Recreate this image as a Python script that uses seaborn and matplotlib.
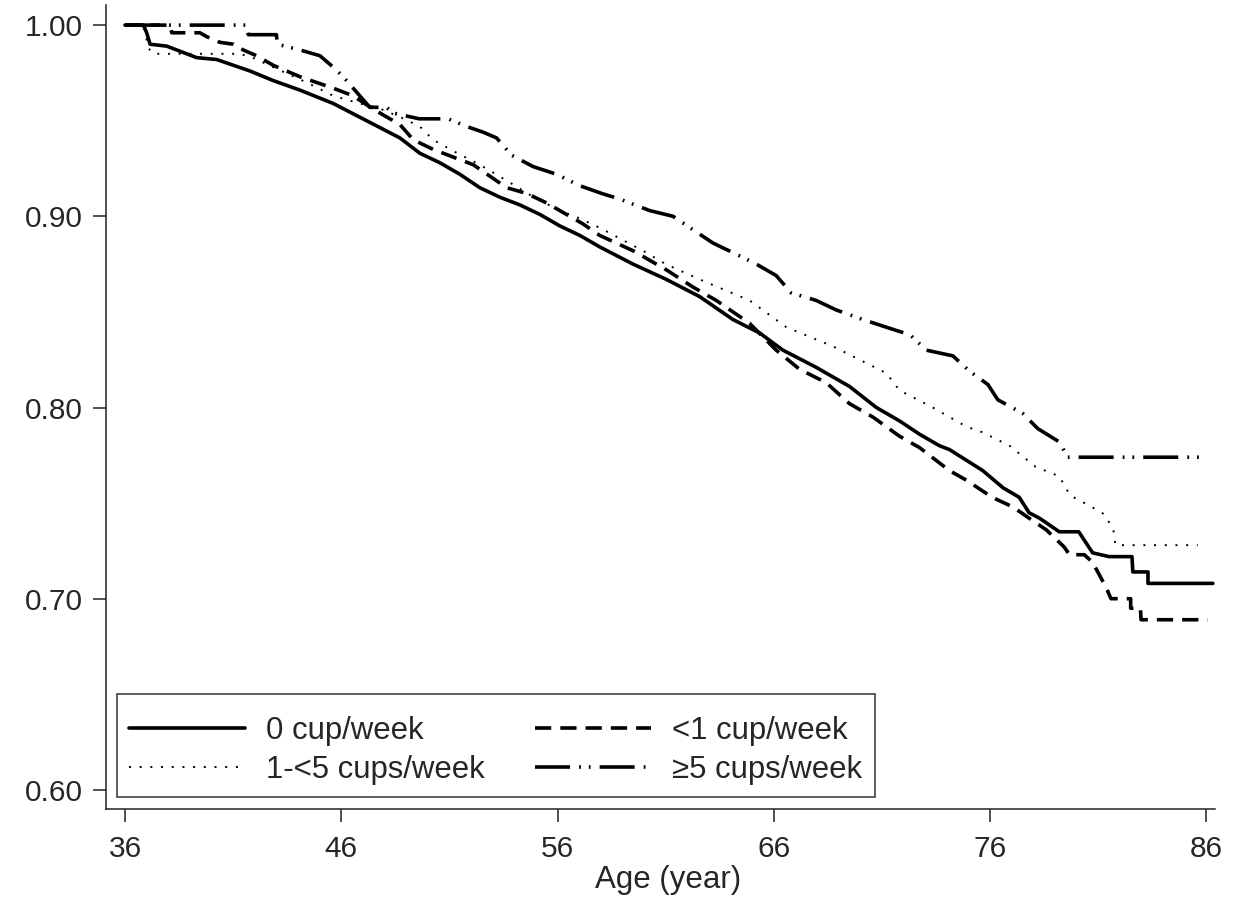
import seaborn as sns
import pandas as pd
import matplotlib.pyplot as plt

# survival curves (age, proportion still event-free)
age_0 = [36.0, 36.85, 37.0, 37.16, 37.93, 38.39, 39.31, 40.24, 41.01, 41.78, 42.85, 44.09, 45.63,
         47.17, 48.71, 49.63, 50.56, 51.48, 52.4, 53.33, 54.25, 55.18, 56.1, 57.03, 57.95, 59.49,
         61.03, 62.57, 64.11, 65.34, 66.42, 67.96, 69.5, 70.74, 71.81, 72.74, 73.66, 74.12, 75.66,
         76.6, 77.35, 77.8, 78.3, 79.2, 80.1, 80.74, 81.5, 82.56, 82.6, 83.3, 83.3, 86.3]
surv_0 = [1.000, 1.000, 0.996, 0.990, 0.989, 0.987, 0.983, 0.982, 0.979, 0.976, 0.971, 0.966, 0.959,
          0.950, 0.941, 0.933, 0.928, 0.922, 0.915, 0.910, 0.906, 0.901, 0.895, 0.890, 0.884, 0.875,
          0.867, 0.858, 0.846, 0.839, 0.830, 0.821, 0.811, 0.800, 0.793, 0.786, 0.780, 0.778, 0.767,
          0.758, 0.753, 0.745, 0.742, 0.735, 0.735, 0.724, 0.722, 0.722, 0.714, 0.714, 0.708, 0.708]

age_1 = [36.0, 38.1, 38.16, 39.46, 39.77, 40.39, 41.01, 41.47, 42.08, 42.85, 43.47, 44.09, 44.86,
         45.63, 46.55, 47.48, 48.71, 49.33, 50.25, 51.17, 52.1, 52.87, 53.64, 54.56, 55.49, 56.41,
         57.18, 57.95, 59.49, 61.03, 62.26, 63.34, 64.88, 66.11, 67.19, 68.42, 69.5, 70.58, 71.81,
         72.74, 74.12, 74.9, 76.1, 77.05, 77.82, 78.6, 79.43, 79.67, 80.36, 80.74, 81.36, 81.59,
         82.5, 82.5, 82.95, 82.98, 86.06]
surv_1 = [1.000, 1.000, 0.996, 0.996, 0.994, 0.991, 0.990, 0.987, 0.984, 0.979, 0.976, 0.973, 0.970,
          0.967, 0.963, 0.956, 0.948, 0.940, 0.935, 0.931, 0.927, 0.921, 0.915, 0.912, 0.907, 0.901,
          0.896, 0.890, 0.882, 0.872, 0.863, 0.856, 0.844, 0.830, 0.820, 0.813, 0.802, 0.795, 0.785,
          0.779, 0.767, 0.762, 0.753, 0.748, 0.742, 0.736, 0.727, 0.723, 0.723, 0.719, 0.706, 0.700,
          0.700, 0.695, 0.695, 0.689, 0.689]

age_2 = [36.0, 36.85, 37.08, 37.3, 41.3, 41.9, 42.85, 44.4, 45.63, 46.86, 47.63, 48.71, 49.63,
         50.25, 51.2, 52.4, 53.6, 54.9, 56.1, 57.0, 57.95, 59.95, 61.0, 62.57, 64.88, 66.58, 68.73,
         71.2, 71.81, 73.35, 74.9, 75.66, 76.9, 78.1, 79.2, 79.7, 80.7, 81.3, 81.7, 81.8, 85.6]
surv_2 = [1.000, 1.000, 0.988, 0.985, 0.985, 0.983, 0.978, 0.970, 0.963, 0.959, 0.957, 0.952, 0.947,
          0.940, 0.934, 0.927, 0.919, 0.910, 0.903, 0.899, 0.894, 0.882, 0.875, 0.867, 0.856, 0.842,
          0.832, 0.818, 0.809, 0.800, 0.790, 0.787, 0.780, 0.769, 0.764, 0.754, 0.748, 0.744, 0.736,
          0.728, 0.728]

age_3 = [36.0, 41.62, 41.7, 43.0, 43.05, 44.09, 45.01, 45.63, 46.09, 46.55, 47.32, 48.09, 48.4,
         49.6, 50.94, 51.79, 52.56, 53.18, 53.87, 54.87, 55.95, 57.03, 58.03, 58.88, 60.26, 61.34,
         62.26, 63.19, 64.11, 65.19, 66.11, 66.8, 67.96, 68.89, 70.12, 71.2, 72.3, 73.05, 74.28,
         75.05, 75.9, 76.36, 77.5, 78.2, 79.2, 79.59, 85.98]
surv_3 = [1.000, 1.000, 0.995, 0.995, 0.990, 0.987, 0.984, 0.978, 0.973, 0.967, 0.957, 0.957, 0.954,
          0.951, 0.951, 0.947, 0.944, 0.941, 0.932, 0.926, 0.922, 0.916, 0.912, 0.909, 0.903, 0.900,
          0.893, 0.886, 0.881, 0.875, 0.869, 0.860, 0.856, 0.851, 0.846, 0.842, 0.838, 0.830, 0.827,
          0.819, 0.812, 0.804, 0.797, 0.789, 0.782, 0.774, 0.774]

groups = ["0 cup/week", "<1 cup/week", "1-<5 cups/week", "\u22655 cups/week"]
x_ticks = [36, 46, 56, 66, 76, 86]
y_ticks = [0.60, 0.70, 0.80, 0.90, 1.00]

sns.set_style("ticks")
plt.rcParams["font.family"] = ["Liberation Sans", "DejaVu Sans"]

fig = plt.figure(figsize=(12.44, 9), dpi=100)
ax = fig.add_axes([0.0852, 0.1011, 0.8915, 0.8933])

# stata-like line patterns
styles = {
    groups[0]: dict(linestyle="-", lw=2.6),
    groups[1]: dict(linestyle=(0, (4.5, 2.5)), lw=2.6),
    groups[2]: dict(linestyle=(0, (1, 4.5)), lw=1.4),
    groups[3]: dict(linestyle=(0, (9.7, 2.5, 0.5, 2.2, 0.5, 2.5)), lw=2.6),
}
series = [(age_0, surv_0), (age_1, surv_1), (age_2, surv_2), (age_3, surv_3)]

handles = {}
for name, (a, s) in zip(groups, series):
    df = pd.DataFrame({"age": a, "surv": s})
    sns.lineplot(data=df, x="age", y="surv", estimator=None, sort=False, color="black",
                 label=name, ax=ax, **styles[name])
    handles[name] = ax.get_lines()[-1]

ax.set_xlim(35.12, 86.4)
ax.set_ylim(0.590, 1.0105)
ax.set_xticks(x_ticks)
ax.set_yticks(y_ticks)
ax.set_yticklabels([f"{v:.2f}" for v in y_ticks])
ax.tick_params(axis="both", labelsize=21.5, length=9.4, width=1.1, color="#222222")
ax.tick_params(axis="x", pad=9)
ax.tick_params(axis="y", pad=7)
ax.set_xlabel("Age (year)", fontsize=22.5, labelpad=2)
ax.xaxis.label.set_x(0.507)
ax.set_ylabel("")
sns.despine(ax=ax)
for sp in ["left", "bottom"]:
    ax.spines[sp].set_linewidth(1.1)
    ax.spines[sp].set_color("#222222")

order = [groups[0], groups[2], groups[1], groups[3]]
# tiny blank title gives the extra space above the first row, as in the original
leg = ax.legend([handles[k] for k in order], order, ncol=2, loc="lower left",
                bbox_to_anchor=(0.0099, 0.0149), borderaxespad=0, fontsize=22.4,
                title=" ", title_fontsize=1,
                frameon=True, fancybox=False, edgecolor="black", handlelength=3.7,
                handletextpad=0.7, columnspacing=1.62, labelspacing=0.27, borderpad=0.4)
leg.get_frame().set_linewidth(1.1)

fig.savefig("out.png", dpi=100, facecolor="white")
